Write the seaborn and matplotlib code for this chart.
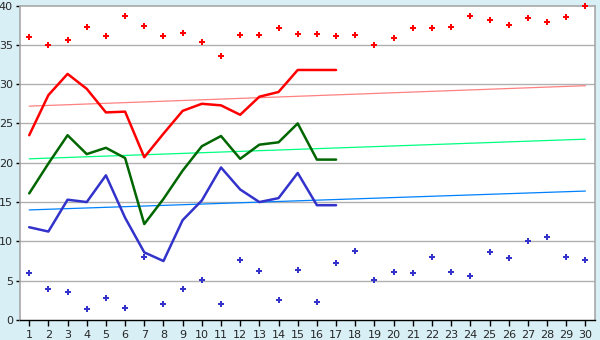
import matplotlib
matplotlib.use("Agg")
import matplotlib.pyplot as plt
import seaborn as sns
import pandas as pd

days = list(range(1, 31))
line_days = list(range(1, 18))

max_points = [36.0, 35.0, 35.6, 37.3, 36.1, 38.7, 37.4, 36.1, 36.5, 35.4,
              33.6, 36.3, 36.3, 37.2, 36.4, 36.4, 36.1, 36.3, 35.0, 35.9,
              37.2, 37.2, 37.3, 38.7, 38.2, 37.5, 38.4, 37.9, 38.6, 40.0]
min_points = [5.95, 4.0, 3.5, 1.35, 2.75, 1.5, 8.0, 2.0, 4.0, 5.05,
              2.0, 7.6, 6.2, 2.5, 6.3, 2.25, 7.2, 8.75, 5.05, 6.1,
              5.95, 8.0, 6.1, 5.55, 8.6, 7.85, 10.0, 10.5, 8.0, 7.6]

red_line = [23.5, 28.6, 31.3, 29.4, 26.4, 26.5, 20.7, 23.7, 26.6, 27.5,
            27.3, 26.1, 28.4, 29.0, 31.8, 31.8, 31.8]
green_line = [16.1, 19.9, 23.5, 21.1, 21.9, 20.6, 12.2, 15.4, 19.0, 22.1,
              23.4, 20.5, 22.3, 22.6, 25.0, 20.4, 20.4]
blue_line = [11.8, 11.25, 15.3, 15.0, 18.4, 13.0, 8.6, 7.5, 12.7, 15.2,
             19.4, 16.6, 15.0, 15.5, 18.7, 14.6, 14.6]

trend_x = [1, 30]
red_trend = [27.2, 29.8]
green_trend = [20.5, 23.0]
blue_trend = [14.0, 16.4]

y_ticks = [0, 5, 10, 15, 20, 25, 30, 35, 40]

sns.set_style("white")
plt.rcParams['font.family'] = ['DejaVu Sans']

bg = "#d9eff6"
fig = plt.figure(figsize=(6, 3.4), dpi=100, facecolor=bg)
ax = fig.add_axes([20/600, 20/340, 575/600, 314.5/340])
ax.set_facecolor("white")

for yv in y_ticks[1:-1]:
    ax.axhline(yv, color="#b0b0b0", lw=1.0, zorder=0)

sns.lineplot(x=trend_x, y=red_trend, color="#ff8080", lw=0.9, ax=ax)
sns.lineplot(x=trend_x, y=green_trend, color="#00ff80", lw=0.9, ax=ax)
sns.lineplot(x=trend_x, y=blue_trend, color="#0080ff", lw=0.9, ax=ax)

sns.lineplot(x=line_days, y=red_line, color="#ff0000", lw=1.8, ax=ax)
sns.lineplot(x=line_days, y=green_line, color="#006600", lw=1.8, ax=ax)
sns.lineplot(x=line_days, y=blue_line, color="#3333cc", lw=1.8, ax=ax)

sns.scatterplot(x=days, y=max_points, color="#ff0000", marker="P", s=24,
                linewidth=0, ax=ax, clip_on=False, zorder=5)
sns.scatterplot(x=days, y=min_points, color="#3333cc", marker="P", s=24,
                linewidth=0, ax=ax, clip_on=False, zorder=5)

ax.set_xlim(0.52, 30.5)
ax.set_ylim(0, 40)
ax.set_xticks(days)
ax.set_xticklabels([str(d) for d in days])
ax.set_yticks(y_ticks)
ax.set_yticklabels([str(v) for v in y_ticks])
ax.tick_params(axis="x", direction="out", length=4, width=1, color="#000000",
               labelsize=8, pad=3, bottom=True)
ax.tick_params(axis="y", direction="out", length=3, width=1, color="#000000",
               labelsize=8, pad=2, left=True)
for s in ["left", "right", "top"]:
    ax.spines[s].set_color("#a8a8a8")
    ax.spines[s].set_linewidth(1.2)
ax.spines["bottom"].set_color("#000000")
ax.spines["bottom"].set_linewidth(1.0)
ax.set_xlabel("")
ax.set_ylabel("")

fig.savefig("out.png", dpi=100, facecolor=bg)
